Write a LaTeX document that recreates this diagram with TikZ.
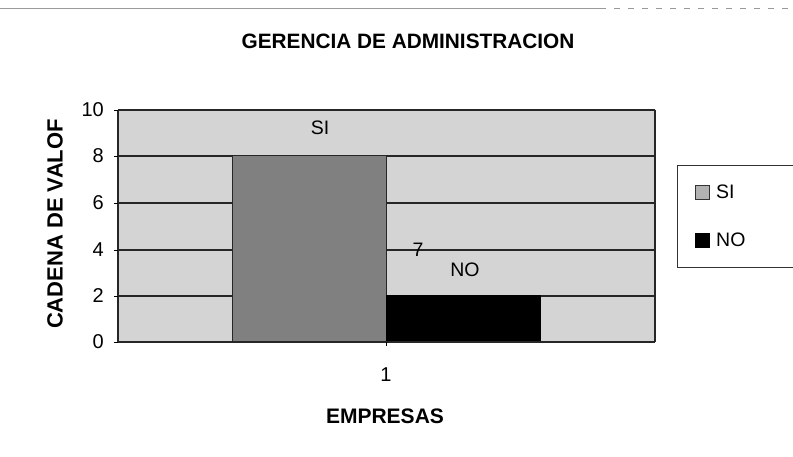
\documentclass[tikz,border=0pt]{standalone}
\usepackage{fontspec}
\setmainfont{Liberation Sans}
\begin{document}
\begin{tikzpicture}[x=1pt,y=-1pt,
  ttl/.style={font=\fontsize{20.8}{24}\selectfont\bfseries, inner sep=0pt},
  tick/.style={font=\fontsize{20}{24}\selectfont, inner sep=0pt},
  lbl/.style={font=\fontsize{19.5}{23}\selectfont, inner sep=0pt},
  grid/.style={line width=1.2pt, black!85},
  plotbg/.style={fill=black!17},
  sibar/.style={fill=black!50, draw=black!85, line width=1pt},
  nobar/.style={fill=black, draw=black, line width=1pt}]
\useasboundingbox (0,0) rectangle (793,457);
% outer chart border (faint)
\draw[black!40, line width=0.8pt] (0,8) -- (600,8);
\draw[black!40, line width=0.8pt, dash pattern=on 6pt off 8pt] (600,8) -- (793,8);
% plot area
\fill[plotbg] (118,110) rectangle (655,342);
% grid lines
\draw[grid] (118,110) -- (655,110);
\draw[grid] (118,156) -- (655,156);
\draw[grid] (118,203) -- (232,203) (386,203) -- (655,203);
\draw[grid] (118,250) -- (232,250) (386,250) -- (655,250);
\draw[grid] (118,296) -- (232,296) (540,296) -- (655,296);
\draw[grid] (655,110) -- (655,342);
% bars
\node[sibar, minimum width=154pt, minimum height=186pt, inner sep=0pt, anchor=south west] (si) at (232,342) {};
\node[nobar, minimum width=154pt, minimum height=46pt, inner sep=0pt, anchor=south west] (no) at (386,342) {};
% axes
\draw[grid] (118,110) -- (118,342) -- (655,342);
\foreach \v/\y in {0/342,2/296,4/250,6/203,8/156,10/110}{
  \draw[black, line width=0.8pt] (114,\y) -- (118,\y);
  \node[tick, anchor=east] (t\v) at (104,\y) {\v};
}
\draw[black, line width=0.8pt] (386,342) -- (386,346);
\node[tick] (x1) at (386,375) {1};
% titles
\node[ttl] (title) at (408,41) {GERENCIA DE ADMINISTRACION};
\node[ttl, font=\fontsize{21}{24}\selectfont\bfseries] (xlab) at (385,416) {EMPRESAS};
\node[ttl, rotate=90, font=\fontsize{22}{25}\selectfont\bfseries] (ylab) at (55,224) {CADENA DE VALOF};
% data labels
\node[lbl] (lsi) at (320,128) {SI};
\node[lbl] (l7) at (418,250) {7};
\node[lbl] (lno) at (465,270) {NO};
% legend
\draw[black!80, line width=0.9pt] (793,165) -- (677,165) -- (677,267) -- (793,267);
\node[fill=black!30, draw=black!80, line width=0.9pt, minimum size=14pt, inner sep=0pt] (ksi) at (702,192) {};
\node[lbl, anchor=west] (tsi) at (716,192) {SI};
\node[fill=black, draw=black, minimum size=14pt, inner sep=0pt] (kno) at (702,240) {};
\node[lbl, anchor=west] (tno) at (716,240) {NO};
\end{tikzpicture}
\end{document}
